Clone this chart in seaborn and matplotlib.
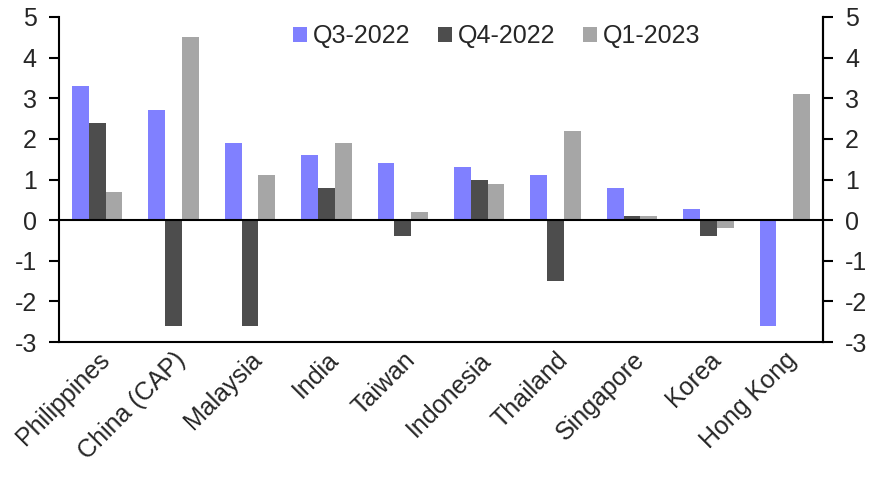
import pandas as pd
import matplotlib
matplotlib.use('Agg')
import matplotlib.pyplot as plt
import seaborn as sns
from matplotlib.ticker import FixedLocator

# --- DATA ---
COUNTRIES = ["Philippines", "China (CAP)", "Malaysia", "India", "Taiwan",
             "Indonesia", "Thailand", "Singapore", "Korea", "Hong Kong"]
Q3_2022 = [3.3, 2.7, 1.9, 1.6, 1.4, 1.3, 1.1, 0.8, 0.27, -2.6]
Q4_2022 = [2.4, -2.6, -2.6, 0.8, -0.4, 1.0, -1.5, 0.1, -0.4, 0.0]
Q1_2023 = [0.7, 4.5, 1.1, 1.9, 0.2, 0.9, 2.2, 0.1, -0.2, 3.1]
SERIES = ["Q3-2022", "Q4-2022", "Q1-2023"]
COLORS = ["#8080FF", "#4D4D4D", "#A6A6A6"]
Y_TICKS = [-3, -2, -1, 0, 1, 2, 3, 4, 5]

FS = 18

df = pd.DataFrame({"country": COUNTRIES * 3,
                   "quarter": [s for s in SERIES for _ in COUNTRIES],
                   "value": Q3_2022 + Q4_2022 + Q1_2023})

sns.set_style("white")
plt.rcParams['font.family'] = ['Liberation Sans', 'DejaVu Sans']
plt.rcParams['axes.unicode_minus'] = False

fig = plt.figure(figsize=(8.79, 4.8), dpi=100)
ax = fig.add_axes([59 / 879, 1 - 342 / 480, (823 - 59) / 879, (342 - 17) / 480])

sns.barplot(data=df, x="country", y="value", hue="quarter", order=COUNTRIES,
            hue_order=SERIES, palette=COLORS, width=0.66, gap=0, saturation=1,
            errorbar=None, linewidth=0, ax=ax)

ax.set_xlim(-0.5, len(COUNTRIES) - 0.5)
ax.set_ylim(-3, 5)
ax.set_yticks(Y_TICKS)
ax.axhline(0, color="black", lw=1.5, zorder=5)
ax.set_xlabel(""); ax.set_ylabel("")

ax.spines["top"].set_visible(False)
for side in ["left", "bottom", "right"]:
    ax.spines[side].set_color("black")
    ax.spines[side].set_linewidth(1.5)

ax.tick_params(axis="x", which="major", length=0, labelsize=FS, pad=4)
ax.xaxis.set_minor_locator(FixedLocator([i - 0.5 for i in range(len(COUNTRIES) + 1)]))
ax.tick_params(axis="x", which="minor", length=7, width=1.5, color="black", direction="out")
ax.tick_params(axis="y", length=7, width=1.5, color="black", direction="out", labelsize=FS, pad=9)
plt.setp(ax.get_xticklabels(), rotation=45, ha="right", rotation_mode="anchor")

ax2 = ax.twinx()
ax2.set_ylim(-3, 5)
ax2.set_yticks(Y_TICKS)
ax2.tick_params(axis="y", length=7, width=1.5, color="black", direction="out", labelsize=FS, pad=9)
for side in ["top", "left", "bottom"]:
    ax2.spines[side].set_visible(False)
ax2.spines["right"].set_linewidth(1.5)
ax2.spines["right"].set_color("black")

leg = ax.legend(loc="center", bbox_to_anchor=((497 - 59) / 764, 1 - 19 / 325), ncol=3, frameon=False,
                fontsize=FS, handlelength=0.55, handleheight=0.55, handletextpad=0.25,
                columnspacing=1.1, borderaxespad=0)

fig.savefig("out.png", dpi=100)
